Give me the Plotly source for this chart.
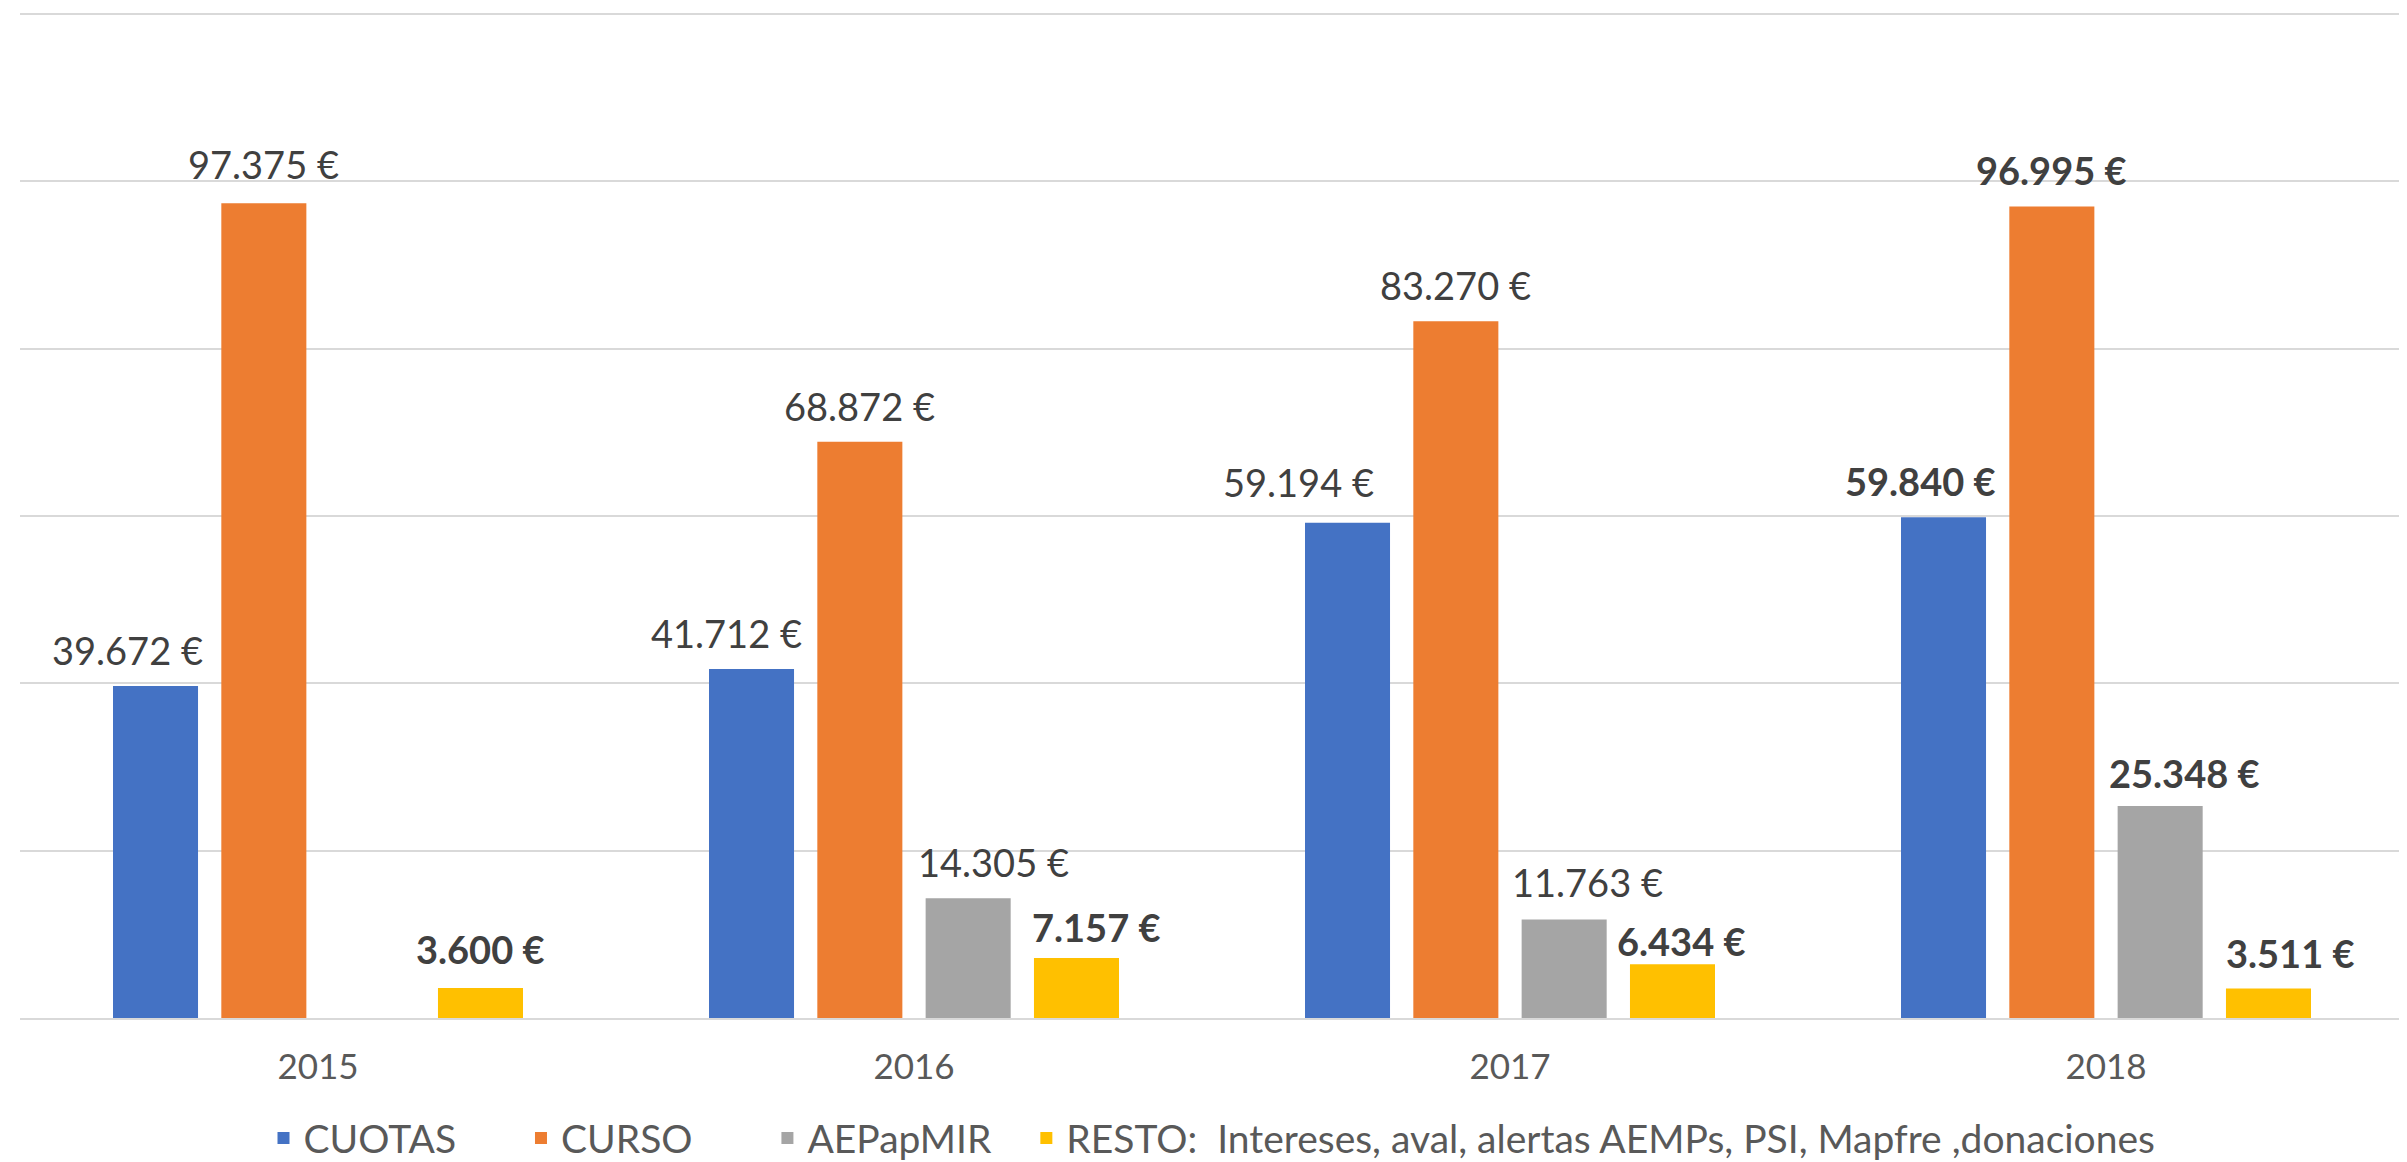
import plotly.graph_objects as go

# datos
years = ["2015", "2016", "2017", "2018"]
cuotas = [39672, 41712, 59194, 59840]
curso = [97375, 68872, 83270, 96995]
aepapmir = [None, 14305, 11763, 25348]
resto = [3600, 7157, 6434, 3511]

names = ["CUOTAS", "CURSO", "AEPapMIR",
         "RESTO:  Intereses, aval, alertas AEMPs, PSI, Mapfre ,donaciones"]
colors = ["#4472C4", "#ED7D31", "#A5A5A5", "#FFC000"]

# qué etiquetas van en negrita (como en el original)
bold = [
    [False, False, False, True],
    [False, False, False, True],
    [False, False, False, True],
    [True, True, True, True],
]
# desplazamiento manual de las etiquetas (px), como en el gráfico original
label_dx = [
    [-28, -25, -49, -23],
    [0, 0, 0, 0],
    [0, 25, 23, 24],
    [0, 20, 9, 22],
]
label_gap = [
    [20, 20, 25, 20],
    [23, 20, 20, 20],
    [20, 20, 22, 17],
    [23, 15, 7, 20],
]
# relleno para separar las entradas de la leyenda
legend_pad = [6, 7, 3, 0]

values = [cuotas, curso, aepapmir, resto]


def euro(v):
    # formato español: separador de miles con punto
    return f"{v:,.0f}".replace(",", ".") + " €"


FONT = "Lato, 'Open Sans', sans-serif"
W, H = 2407, 1162
M = dict(l=12, r=11, t=0, b=152)
BARGAP, GROUPGAP = 0.273, 0.215
Y_TOP = 120717  # deja la línea de 120.000 a unos px del borde

# ancho de cada hueco de barra en px (para colocar las etiquetas)
plot_w = W - M["l"] - M["r"]
cat_w = plot_w / len(years)
slot = cat_w * (1 - BARGAP) / len(values)

fig = go.Figure()
annotations = []
for i, (name, vals, color) in enumerate(zip(names, values, colors)):
    fig.add_trace(go.Bar(
        x=years,
        y=vals,
        name=name + "\u00a0" * legend_pad[i],
        marker=dict(color=color, line=dict(width=0)),
        hoverinfo="none",
    ))
    offset = (i - (len(values) - 1) / 2) * slot
    for j, v in enumerate(vals):
        if v is None:
            continue
        txt = f"<b>{euro(v)}</b>" if bold[i][j] else euro(v)
        annotations.append(dict(
            x=j, y=v, xref="x", yref="y",
            text=txt, showarrow=False,
            xanchor="center", yanchor="bottom",
            xshift=offset + label_dx[i][j],
            yshift=label_gap[i][j] - 9,
            font=dict(family=FONT, size=38, color="#404040"),
        ))

fig.update_layout(
    width=W,
    height=H,
    barmode="group",
    bargap=BARGAP,
    bargroupgap=GROUPGAP,
    plot_bgcolor="white",
    paper_bgcolor="white",
    margin=dict(**M, autoexpand=False),
    font=dict(family=FONT, size=34, color="#595959"),
    annotations=annotations,
    showlegend=True,
    legend=dict(
        orientation="h",
        x=0.5,
        xanchor="center",
        y=-0.119,
        yanchor="middle",
        font=dict(family=FONT, size=39, color="#595959"),
        itemwidth=30,
        traceorder="normal",
    ),
)
fig.update_xaxes(
    type="category",
    range=[-0.5, len(years) - 0.5],
    showgrid=False,
    showline=True,
    linecolor="#D9D9D9",
    linewidth=2,
    ticks="",
    ticklabelstandoff=17,
    tickfont=dict(family=FONT, size=35, color="#595959"),
)
fig.update_yaxes(
    range=[0, Y_TOP],
    dtick=20000,
    showgrid=True,
    gridcolor="#D9D9D9",
    gridwidth=2,
    showticklabels=False,
    zeroline=False,
    showline=False,
    ticks="",
)

fig.write_html("out.html")
